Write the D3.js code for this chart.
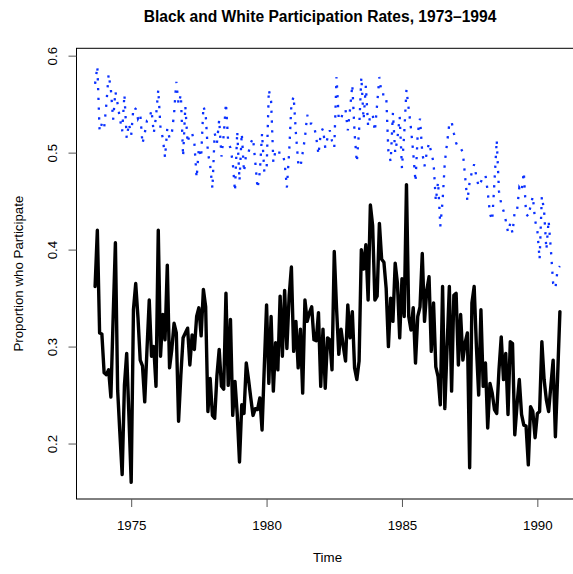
<!DOCTYPE html>
<html>
<head>
<meta charset="utf-8">
<script src="https://cdn.jsdelivr.net/npm/d3@7"></script>
<style>
  body { margin: 0; background: #fff; }
  svg { display: block; font-family: "Liberation Sans", Arial, Helvetica, sans-serif; }
</style>
</head>
<body>
<div id="chart"></div>
<script>
// monthly series, Sep 1973 .. Nov 1990
var startYear = 1973,
    startMonth = 8; // 0 = January

var blackRate = [
    0.362, 0.420, 0.314, 0.313,
    0.273, 0.271, 0.276, 0.248, 0.330, 0.407, 0.255, 0.210, 0.168, 0.260, 0.293, 0.228,
    0.160, 0.338, 0.365, 0.330, 0.286, 0.280, 0.243, 0.297, 0.348, 0.290, 0.300, 0.259,
    0.420, 0.290, 0.333, 0.307, 0.384, 0.278, 0.297, 0.324, 0.314, 0.223, 0.270, 0.309,
    0.314, 0.319, 0.281, 0.312, 0.297, 0.331, 0.340, 0.311, 0.359, 0.341, 0.233, 0.267,
    0.229, 0.226, 0.270, 0.297, 0.259, 0.256, 0.355, 0.260, 0.328, 0.229, 0.264, 0.230,
    0.181, 0.240, 0.231, 0.283, 0.266, 0.247, 0.229, 0.236, 0.235, 0.247, 0.214, 0.280,
    0.343, 0.262, 0.331, 0.254, 0.304, 0.276, 0.352, 0.290, 0.358, 0.298, 0.352, 0.382,
    0.295, 0.326, 0.278, 0.318, 0.252, 0.348, 0.326, 0.335, 0.341, 0.307, 0.306, 0.335,
    0.259, 0.318, 0.257, 0.309, 0.307, 0.276, 0.398, 0.340, 0.292, 0.318, 0.300, 0.285,
    0.343, 0.309, 0.336, 0.278, 0.266, 0.285, 0.400, 0.380, 0.405, 0.348, 0.446, 0.425,
    0.348, 0.352, 0.427, 0.390, 0.387, 0.360, 0.300, 0.350, 0.326, 0.386, 0.365, 0.309,
    0.370, 0.331, 0.467, 0.331, 0.317, 0.340, 0.283, 0.331, 0.341, 0.396, 0.326, 0.358,
    0.372, 0.295, 0.345, 0.279, 0.269, 0.240, 0.362, 0.236, 0.300, 0.362, 0.254, 0.353,
    0.355, 0.281, 0.333, 0.286, 0.304, 0.314, 0.175, 0.345, 0.362, 0.300, 0.250, 0.338,
    0.259, 0.283, 0.216, 0.262, 0.252, 0.235, 0.231, 0.276, 0.310, 0.266, 0.293, 0.230,
    0.305, 0.303, 0.209, 0.240, 0.266, 0.230, 0.219, 0.218, 0.178, 0.238, 0.233, 0.206,
    0.231, 0.233, 0.305, 0.266, 0.245, 0.233, 0.260, 0.286, 0.207, 0.270, 0.336
];

var whiteRate = [
    0.571, 0.589, 0.522, 0.530,
    0.525, 0.550, 0.581, 0.565, 0.534, 0.563, 0.550, 0.535, 0.522, 0.560, 0.515, 0.530,
    0.518, 0.547, 0.545, 0.535, 0.540, 0.509, 0.520, 0.533, 0.534, 0.544, 0.520, 0.537,
    0.565, 0.525, 0.515, 0.495, 0.525, 0.515, 0.520, 0.540, 0.573, 0.550, 0.560, 0.496,
    0.548, 0.510, 0.520, 0.520, 0.510, 0.474, 0.505, 0.495, 0.548, 0.540, 0.500, 0.487,
    0.463, 0.520, 0.510, 0.534, 0.496, 0.518, 0.551, 0.510, 0.505, 0.490, 0.460, 0.522,
    0.471, 0.520, 0.480, 0.500, 0.500, 0.510, 0.515, 0.490, 0.463, 0.480, 0.520, 0.480,
    0.481, 0.565, 0.553, 0.490, 0.503, 0.500, 0.500, 0.500, 0.490, 0.464, 0.500, 0.550,
    0.558, 0.520, 0.490, 0.485, 0.500, 0.515, 0.539, 0.530, 0.530, 0.528, 0.516, 0.498,
    0.520, 0.525, 0.505, 0.515, 0.523, 0.512, 0.505, 0.578, 0.534, 0.534, 0.544, 0.544,
    0.523, 0.545, 0.570, 0.520, 0.490, 0.523, 0.578, 0.534, 0.569, 0.527, 0.538, 0.540,
    0.522, 0.550, 0.578, 0.560, 0.560, 0.560, 0.500, 0.491, 0.541, 0.500, 0.515, 0.537,
    0.484, 0.520, 0.565, 0.545, 0.525, 0.500, 0.470, 0.520, 0.535, 0.500, 0.486, 0.500,
    0.510, 0.500, 0.490, 0.450, 0.470, 0.424, 0.450, 0.490, 0.510, 0.530, 0.532, 0.520,
    0.510, 0.505, 0.505, 0.500, 0.475, 0.450, 0.470, 0.480, 0.488, 0.475, 0.465, 0.470,
    0.475, 0.477, 0.460, 0.437, 0.430, 0.470, 0.513, 0.460, 0.447, 0.440, 0.430, 0.418,
    0.427, 0.417, 0.440, 0.440, 0.464, 0.460, 0.480, 0.437, 0.434, 0.445, 0.455, 0.430,
    0.420, 0.390, 0.455, 0.440, 0.400, 0.430, 0.400, 0.365, 0.360, 0.380, 0.383
];

var yearTicks = [1975, 1980, 1985, 1990],
    rateTicks = [0.2, 0.3, 0.4, 0.5, 0.6];

var chartTitle = "Black and White Participation Rates, 1973\u20131994",
    xLabel = "Time",
    yLabel = "Proportion who Participate";

(function () {
    "use strict";

    var width = 573,
        height = 574,
        box = { left: 76.5, right: 578.5, top: 48.3, bottom: 499 },
        times = blackRate.map(function (d, i) {
            return startYear + (startMonth + i) / 12;
        }),
        t0 = times[0],
        t1 = times[times.length - 1],
        pad = (t1 - t0) * 0.04,
        xFunction = d3.scaleLinear()
            .domain([t0 - pad, t1 + pad])
            .range([box.left, box.right]),
        yFunction = d3.scaleLinear()
            .domain([0.1428, 0.6076])
            .range([box.bottom, box.top]),
        svg = d3.select("#chart")
            .append("svg")
            .attr("width", width)
            .attr("height", height);

    function series(values) {
        return values.map(function (v, i) {
            return [times[i], v];
        });
    }

    var line = d3.line()
        .x(function (d) { return xFunction(d[0]); })
        .y(function (d) { return yFunction(d[1]); });

    // white: dotted blue
    svg.append("path")
        .datum(series(whiteRate))
        .attr("d", line)
        .attr("fill", "none")
        .attr("stroke", "#0a30ff")
        .attr("stroke-width", 2.3)
        .attr("stroke-dasharray", "2.3,7.5");

    // black: thick solid
    svg.append("path")
        .datum(series(blackRate))
        .attr("d", line)
        .attr("fill", "none")
        .attr("stroke", "#000")
        .attr("stroke-width", 3.4)
        .attr("stroke-linejoin", "round")
        .attr("stroke-linecap", "round");

    // box
    svg.append("rect")
        .attr("x", box.left)
        .attr("y", box.top)
        .attr("width", box.right - box.left)
        .attr("height", box.bottom - box.top)
        .attr("fill", "none")
        .attr("stroke", "#000")
        .attr("stroke-width", 1);

    var xAxis = d3.axisBottom(xFunction)
        .tickValues(yearTicks)
        .tickFormat(d3.format("d"))
        .tickSizeInner(8)
        .tickSizeOuter(0);

    var gx = svg.append("g")
        .attr("transform", "translate(0," + box.bottom + ")")
        .call(xAxis);
    gx.select(".domain").remove();
    gx.selectAll("line").attr("stroke", "#555");
    gx.selectAll("text")
        .attr("font-size", 13.3)
        .attr("font-family", "inherit")
        .attr("fill", "#000")
        .attr("y", 0)
        .attr("dy", 31);

    var yAxis = d3.axisLeft(yFunction)
        .tickValues(rateTicks)
        .tickFormat(d3.format(".1f"))
        .tickSizeInner(8)
        .tickSizeOuter(0);

    var gy = svg.append("g")
        .attr("transform", "translate(" + box.left + ",0)")
        .call(yAxis);
    gy.select(".domain").remove();
    gy.selectAll("line").attr("stroke", "#555");
    gy.selectAll("text")
        .attr("font-size", 13.3)
        .attr("font-family", "inherit")
        .attr("fill", "#000")
        .attr("x", 0)
        .attr("dy", 0)
        .attr("text-anchor", "middle")
        .attr("transform", "translate(-19.5,0) rotate(-90)");

    var midX = (box.left + box.right) / 2;

    svg.append("text")
        .attr("x", 320)
        .attr("y", 22)
        .attr("text-anchor", "middle")
        .attr("font-size", 15.6)
        .attr("font-weight", "bold")
        .text(chartTitle);

    svg.append("text")
        .attr("x", midX)
        .attr("y", 562)
        .attr("text-anchor", "middle")
        .attr("font-size", 13.3)
        .text(xLabel);

    svg.append("text")
        .attr("transform", "translate(23," + ((box.top + box.bottom) / 2) + ") rotate(-90)")
        .attr("text-anchor", "middle")
        .attr("font-size", 13.3)
        .text(yLabel);
}());
</script>
</body>
</html>
